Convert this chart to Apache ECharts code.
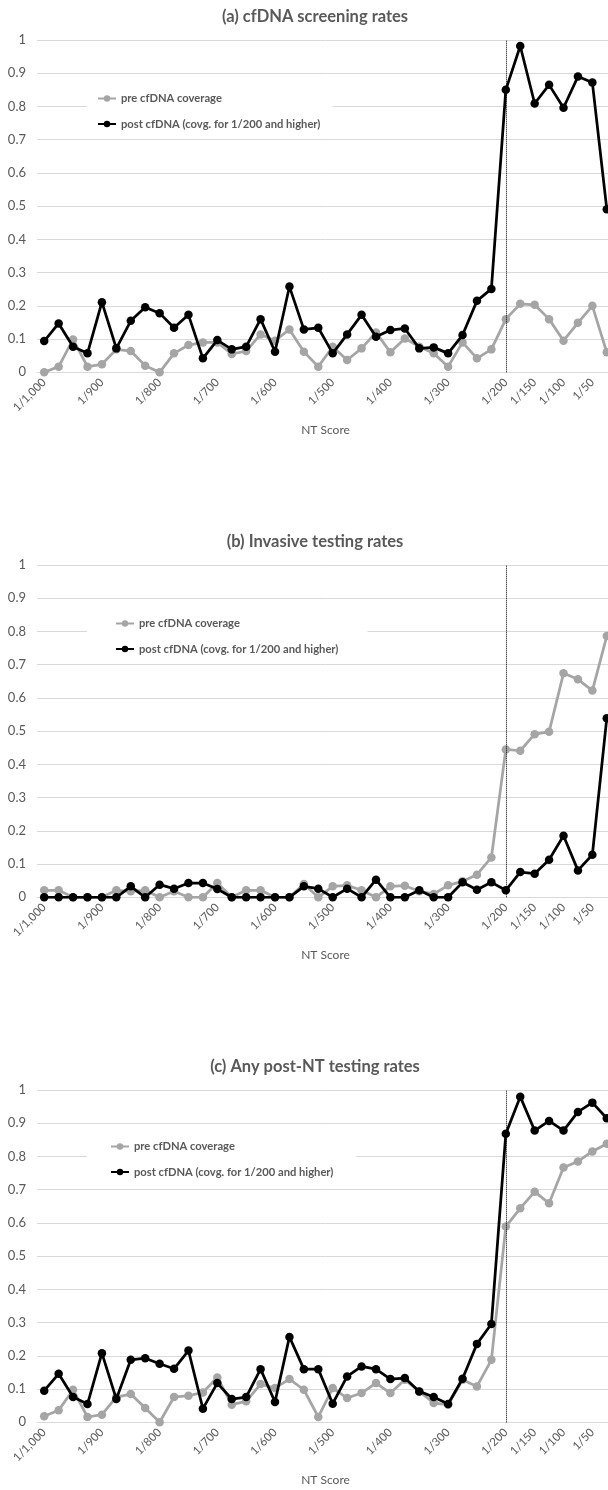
<!DOCTYPE html>
<html>
<head>
<meta charset="utf-8">
<script src="https://cdn.jsdelivr.net/npm/echarts/dist/echarts.min.js"></script>
<style>
  html, body { margin: 0; padding: 0; background: #fff; overflow: hidden; }
  #chart { width: 630px; height: 1490px; }
</style>
</head>
<body>
<div id="chart"></div>
<script>
// Categories: NT score risk cut-offs
const categories = ["1/1,000","1/975","1/950","1/925","1/900","1/875","1/850","1/825","1/800","1/775","1/750","1/725","1/700","1/675","1/650","1/625","1/600","1/575","1/550","1/525","1/500","1/475","1/450","1/425","1/400","1/375","1/350","1/325","1/300","1/275","1/250","1/225","1/200","1/175","1/150","1/125","1/100","1/75","1/50","1/25"];
const shownLabels = ["1/1,000","1/900","1/800","1/700","1/600","1/500","1/400","1/300","1/200","1/150","1/100","1/50"];
const cutoffCategory = "1/200";

const seriesNames = ["pre cfDNA coverage", "post cfDNA (covg. for 1/200 and higher)"];
const panelTitles = ["(a) cfDNA screening rates", "(b) Invasive testing rates", "(c) Any post-NT testing rates"];
const axisName = "NT Score";

// (a) cfDNA screening rates
const aPre  = [0.000,0.017,0.099,0.017,0.024,0.069,0.064,0.020,0.000,0.057,0.082,0.090,0.090,0.055,0.064,0.114,0.095,0.129,0.062,0.017,0.077,0.037,0.072,0.120,0.060,0.102,0.077,0.057,0.017,0.090,0.042,0.069,0.160,0.206,0.203,0.160,0.095,0.149,0.200,0.060];
const aPost = [0.094,0.147,0.077,0.057,0.211,0.072,0.155,0.196,0.178,0.134,0.173,0.042,0.097,0.069,0.077,0.160,0.062,0.258,0.129,0.134,0.057,0.114,0.173,0.107,0.127,0.132,0.072,0.075,0.057,0.112,0.215,0.251,0.850,0.982,0.809,0.865,0.796,0.890,0.872,0.491];
// (b) Invasive testing rates
const bPre  = [0.021,0.021,0.000,0.000,0.000,0.021,0.018,0.021,0.000,0.018,0.000,0.000,0.043,0.000,0.021,0.021,0.000,0.000,0.040,0.000,0.033,0.036,0.021,0.000,0.033,0.035,0.018,0.010,0.036,0.048,0.068,0.120,0.445,0.441,0.491,0.498,0.674,0.656,0.622,0.786];
const bPost = [0.000,0.000,0.000,0.000,0.000,0.000,0.033,0.000,0.038,0.026,0.043,0.043,0.025,0.000,0.000,0.000,0.000,0.000,0.033,0.026,0.000,0.026,0.000,0.053,0.000,0.000,0.021,0.000,0.000,0.045,0.023,0.045,0.021,0.076,0.071,0.113,0.185,0.081,0.128,0.539];
// (c) Any post-NT testing rates
const cPre  = [0.018,0.036,0.098,0.016,0.023,0.076,0.085,0.043,0.000,0.076,0.080,0.090,0.135,0.053,0.063,0.115,0.103,0.130,0.098,0.016,0.103,0.073,0.088,0.118,0.088,0.128,0.093,0.058,0.053,0.128,0.108,0.188,0.589,0.644,0.694,0.659,0.767,0.785,0.815,0.838];
const cPost = [0.095,0.146,0.076,0.055,0.208,0.070,0.188,0.193,0.176,0.161,0.216,0.041,0.118,0.070,0.076,0.160,0.061,0.257,0.160,0.160,0.056,0.138,0.168,0.160,0.130,0.133,0.093,0.076,0.055,0.131,0.236,0.296,0.868,0.980,0.878,0.907,0.878,0.934,0.962,0.915];

const panelData = [[aPre, aPost], [bPre, bPost], [cPre, cPost]];

const FONT = 'Lato';
const TXT = '#595959';
const GRIDC = '#d9d9d9';
const colors = ['#a5a5a5', '#000000'];

const PANEL_H = 525;
const legendCfg = [
  { pad: [9, 12, 9, 10], top: 84 },
  { pad: [8, 29, 4, 28], top: 85 },
  { pad: [8, 23, 5, 23], top: 83 }
];

const option = {
  animation: false,
  textStyle: { fontFamily: FONT },
  title: [], legend: [], grid: [], xAxis: [], yAxis: [], series: []
};

panelData.forEach((pair, i) => {
  const off = i * PANEL_H;
  option.title.push({
    text: panelTitles[i], left: 'center', top: off + 8, padding: 0,
    textStyle: { fontFamily: FONT, fontSize: 16.5, fontWeight: 'bold', color: TXT }
  });
  option.legend.push({
    orient: 'vertical', left: 87, top: off + legendCfg[i].top,
    padding: legendCfg[i].pad, itemGap: 14.5, itemWidth: 18, itemHeight: 8,
    backgroundColor: '#ffffff', data: seriesNames,
    textStyle: { fontFamily: FONT, fontSize: 11.2, fontWeight: 'bold', color: TXT }
  });
  option.grid.push({ left: 37, width: 577, top: off + 40, height: 332.3, containLabel: false });
  option.xAxis.push({
    type: 'category', gridIndex: i, data: categories, boundaryGap: true,
    name: axisName, nameLocation: 'middle', nameGap: 52,
    nameTextStyle: { fontFamily: FONT, fontSize: 12, color: TXT },
    axisLine: { lineStyle: { color: GRIDC, width: 1 } },
    axisTick: { show: false },
    axisLabel: {
      rotate: 45, margin: 8, fontFamily: FONT, fontSize: 11.5, color: TXT,
      interval: (idx, val) => shownLabels.includes(val)
    }
  });
  option.yAxis.push({
    type: 'value', gridIndex: i, min: 0, max: 1, interval: 0.1,
    axisLine: { show: false }, axisTick: { show: false },
    axisLabel: { fontFamily: FONT, fontSize: 13, color: TXT, margin: 11 },
    splitLine: { lineStyle: { color: GRIDC, width: 1 } }
  });
  pair.forEach((vals, k) => {
    const s = {
      name: seriesNames[k], type: 'line', xAxisIndex: i, yAxisIndex: i,
      data: vals, symbol: 'circle', symbolSize: 8.5, showSymbol: true,
      itemStyle: { color: colors[k] },
      lineStyle: { color: colors[k], width: 2.75 },
      z: 3 + k
    };
    if (k === 0) {
      s.markLine = {
        silent: true, symbol: 'none', label: { show: false },
        lineStyle: { color: '#000', type: 'dotted', width: 1 },
        data: [{ xAxis: cutoffCategory }]
      };
    }
    option.series.push(s);
  });
});

const chart = echarts.init(document.getElementById('chart'), null, { renderer: 'canvas' });
chart.setOption(option);
</script>
</body>
</html>
